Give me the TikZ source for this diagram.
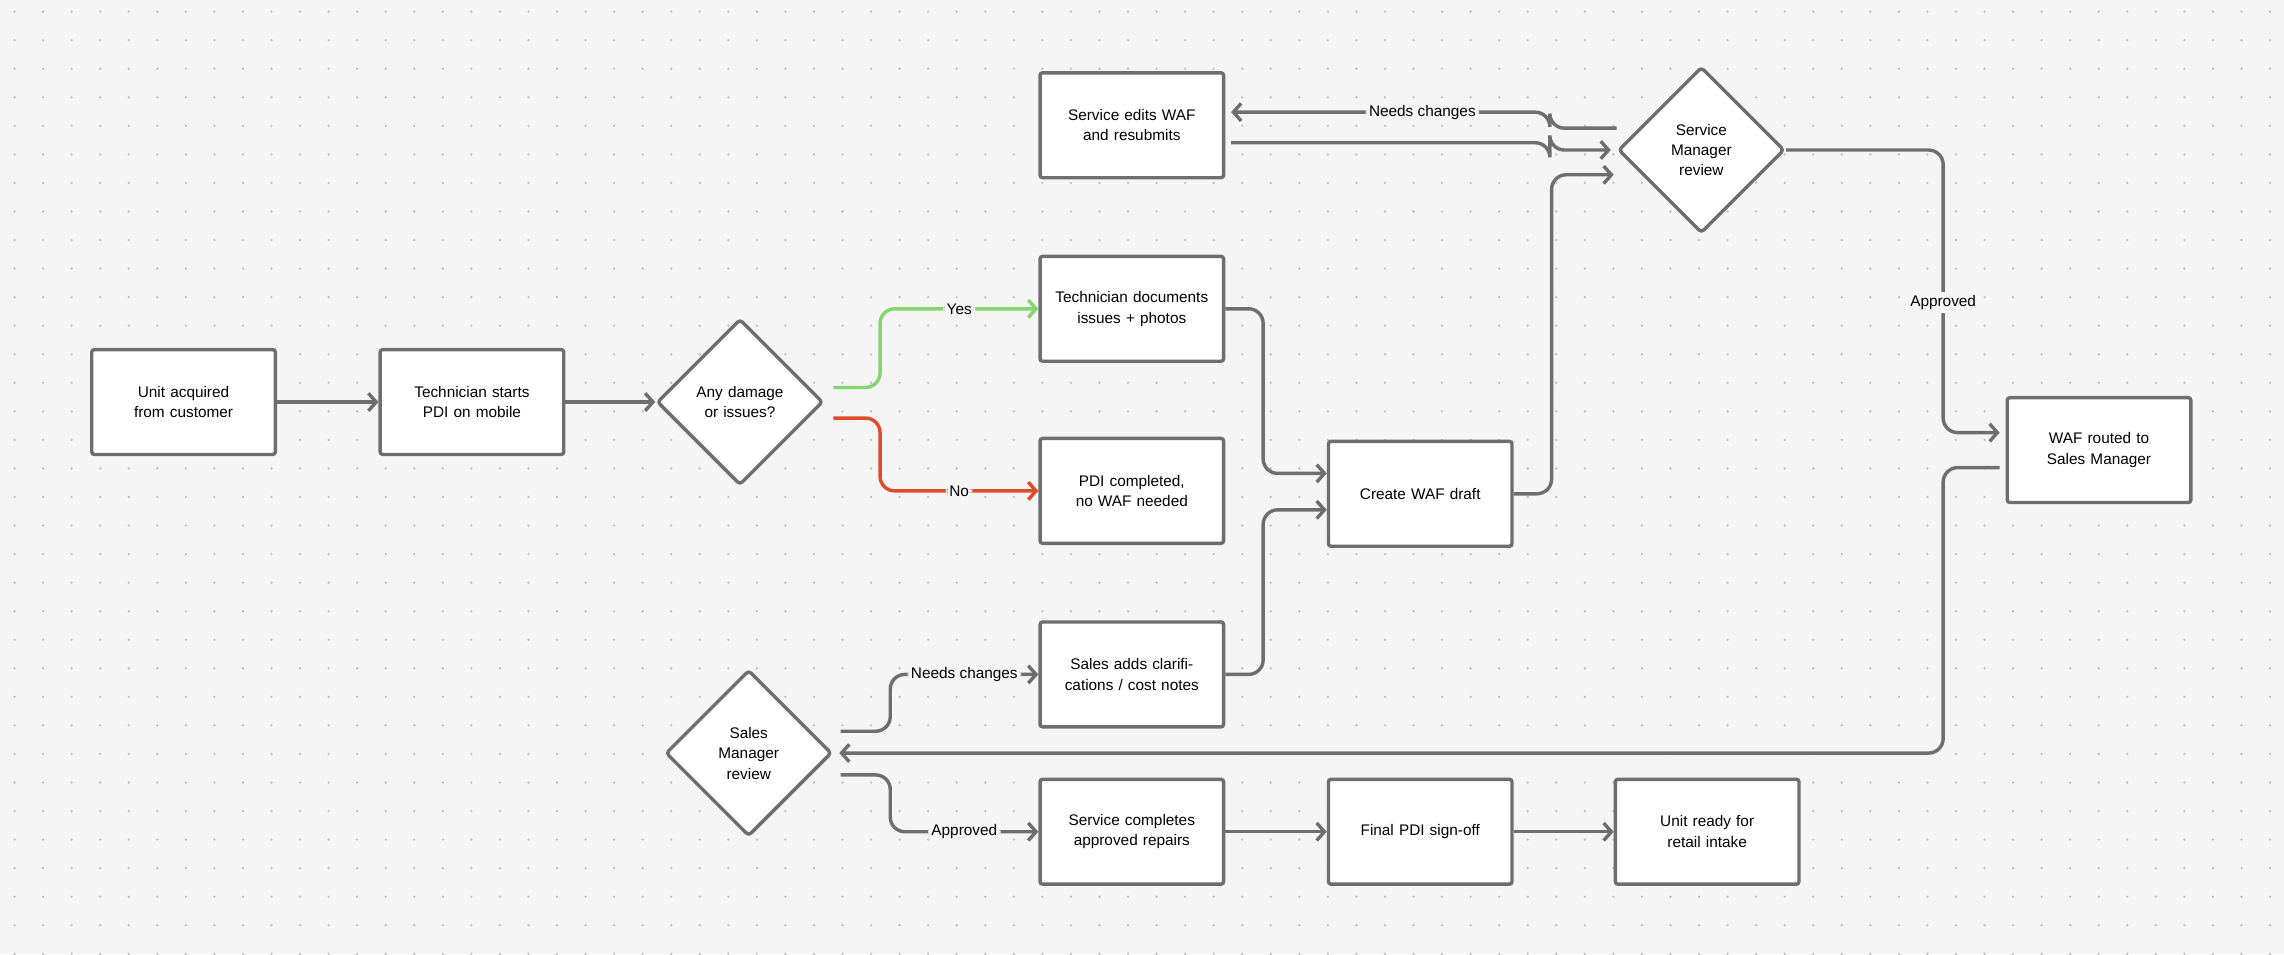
\documentclass[tikz,border=0pt]{standalone}
\usepackage{fontspec}
\setmainfont{Liberation Sans}
\usetikzlibrary{shapes.geometric,arrows.meta,positioning,calc}
\definecolor{bgcol}{HTML}{F5F5F5}
\definecolor{linecol}{HTML}{6E6E6E}
\definecolor{yescol}{HTML}{86D472}
\definecolor{nocol}{HTML}{E04B2C}
\tikzset{
  box/.style={rectangle, draw=linecol, line width=2pt, fill=white, rounded corners=1.5pt,
    minimum width=3.78cm, minimum height=2.16cm, text width=3.3cm, align=center, font=\fontsize{9}{12}\selectfont},
  decision/.style={diamond, draw=linecol, line width=2pt, fill=white, rounded corners=2pt,
    minimum width=3.42cm, minimum height=3.42cm, inner sep=0pt, text width=1.9cm, align=center, font=\fontsize{9}{12}\selectfont},
  flow/.style={draw=linecol, line width=2pt, rounded corners=0.3cm, -{Straight Barb[length=1.6mm,width=3.6mm,line width=2pt]}},
  lbl/.style={fill=bgcol, inner sep=2pt, font=\fontsize{9}{12}\selectfont}
}
\begin{document}
\begin{tikzpicture}[x=0.03cm,y=-0.03cm]
  % background with dot grid
  \fill[bgcol] (0,0) rectangle (1568,655);
  \useasboundingbox (0,0) rectangle (1568,655);
  \foreach \i in {0,...,79} {
    \foreach \j in {0,...,33} {
      \fill[black!25] (10+19.6*\i, 8+19.6*\j) circle (0.9);
    }
  }

  % Nodes
  \node[box] (unit) at (126,276) {Unit acquired from customer};
  \node[box] (start_pdi) at (324,276) {Technician starts PDI on mobile};
  \node[decision] (damage) at (508,276) {Any damage or issues?};
  \node[box] (docs) at (777,212) {Technician documents issues + photos};
  \node[box] (no_waf) at (777,337) {PDI completed, no WAF needed};
  \node[box] (draft) at (975,339) {Create WAF draft};
  \node[box] (edits) at (777,86) {Service edits WAF and resubmits};
  \node[decision] (svc_review) at (1168,103) {Service Manager review};
  \node[box] (routed) at (1441,309) {WAF routed to Sales Manager};
  \node[box] (clarify) at (777,463) {Sales adds clarifications / cost notes};
  \node[decision] (sales_review) at (514,517) {Sales Manager review};
  \node[box] (repairs) at (777,571) {Service completes approved repairs};
  \node[box] (signoff) at (975,571) {Final PDI sign-off};
  \node[box] (ready) at (1172,571) {Unit ready for retail intake};

  % Straight arrows
  \draw[flow] (unit) -- (start_pdi);
  \draw[flow] (start_pdi) -- (damage);
  \draw[flow] (repairs) -- (signoff);
  \draw[flow] (signoff) -- (ready);

  % Decision branches
  \draw[flow, draw=yescol] ($(damage.east)+(6,-10)$) -- ++(32,0) |- (docs.west)
    node[lbl, pos=0.75] {Yes};
  \draw[flow, draw=nocol] ($(damage.east)+(6,11)$) -- ++(32,0) |- (no_waf.west)
    node[lbl, pos=0.75] {No};

  % Into the draft
  \draw[flow] (docs.east) -- ++(26,0) |- ($(draft.west)+(0,-14)$);
  \draw[flow] (clarify.east) -- ++(26,0) |- ($(draft.west)+(0,11)$);
  \draw[flow] (draft.east) -- ++(26,0) |- ($(svc_review.west)+(-2,17)$);

  % Service Manager loop
  \draw[flow] ($(svc_review.west)+(0,-15)$) -- (1064,88) |- ($(edits.east)+(4,-9)$)
    node[lbl, pos=0.7] {Needs changes};
  \draw[flow] ($(edits.east)+(4,12)$) -- (1064,98) |- ($(svc_review.west)+(-4,0)$);
  \draw[flow] (svc_review.east) -- (1334,103) |- ($(routed.west)+(-4,-12)$)
    node[lbl, pos=0.27] {Approved};

  % Back to Sales Manager
  \draw[flow] ($(routed.west)+(-4,12)$) -- (1334,321) |- ($(sales_review.east)+(4,0)$);

  % Sales Manager branches
  \draw[flow] ($(sales_review.east)+(5,-15)$) -- ++(34,0) |- (clarify.west)
    node[lbl, pos=0.75] {Needs changes};
  \draw[flow] ($(sales_review.east)+(5,15)$) -- ++(34,0) |- (repairs.west)
    node[lbl, pos=0.75] {Approved};
\end{tikzpicture}
\end{document}
